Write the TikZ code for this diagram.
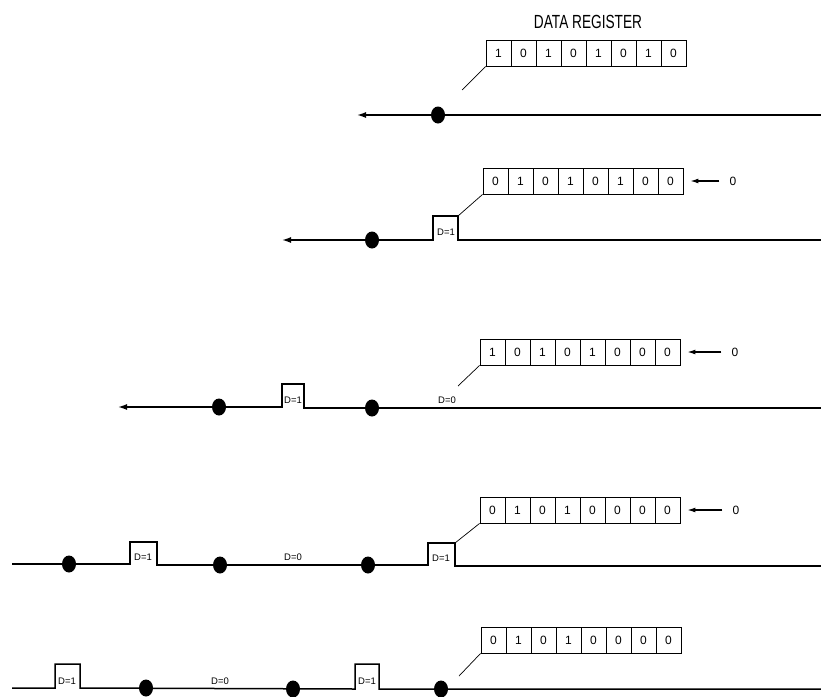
\documentclass[tikz,border=0pt]{standalone}
\usepackage{fontspec}
\setmainfont{Liberation Sans}
\usetikzlibrary{arrows.meta,shapes.geometric}
\tikzset{
  cell/.style={draw,line width=0.9pt,minimum width=25pt,minimum height=26pt,inner sep=0pt,font=\fontsize{12}{12}\selectfont},
  wire/.style={line width=1.5pt,line join=miter},
  leader/.style={line width=0.7pt},
  dotnode/.style={ellipse,fill=black,minimum width=14pt,minimum height=17pt,inner sep=0pt},
  lbl/.style={font=\fontsize{9.5}{9.5}\selectfont,inner sep=0pt},
  inlbl/.style={font=\fontsize{12}{12}\selectfont,inner sep=2pt},
  tip/.style={-{Latex[length=9pt,width=6pt]}},
  feed/.style={line width=1.2pt,-{Latex[length=8pt,width=5pt]},shorten >=7pt,shorten <=8pt},
}
\newcommand{\regrow}[4]{%
  \foreach \b [count=\k from 0] in {#4} {
    \node[cell] (#1-\k) at ({#2+12.5+25*\k},{#3+13}) {\b};
  }%
}
\begin{document}
\begin{tikzpicture}[x=1pt,y=-1pt]
\useasboundingbox (0,0) rectangle (821,696);
% ---------- row 1 ----------
\node[font=\fontsize{19}{19}\selectfont,xscale=0.72,transform shape] (title) at (588,22) {DATA REGISTER};
\regrow{r1}{486}{40}{1,0,1,0,1,0,1,0}
\coordinate (w1s) at (821,115);
\coordinate (w1e) at (357,115);
\draw[wire,tip] (w1s) -- (w1e);
\node[dotnode] (d1a) at (438,115) {};
\coordinate (l1) at (462,90);
\draw[leader] (r1-0.south west) -- (l1);
% ---------- row 2 ----------
\regrow{r2}{483}{168}{0,1,0,1,0,1,0,0}
\coordinate (w2s) at (821,240);
\coordinate (p2r) at (458,216);
\coordinate (w2e) at (282,240);
\draw[wire,tip] (w2s) -- (458,240) -- (p2r) -- (433,216) -- (433,240) -- (w2e);
\node[dotnode] (d2a) at (372,240) {};
\node[lbl] (t2a) at (446,232) {D=1};
\draw[leader] (r2-0.south west) -- (p2r);
\node[inlbl] (z2) at (733,181) {0};
\draw[feed] (z2) -- (r2-7);
% ---------- row 3 ----------
\regrow{r3}{480}{339}{1,0,1,0,1,0,0,0}
\coordinate (w3s) at (821,408);
\coordinate (w3e) at (118,407);
\draw[wire,tip] (w3s) -- (304,408) -- (304,384) -- (282,384) -- (282,407) -- (w3e);
\node[dotnode] (d3a) at (219,407) {};
\node[dotnode] (d3b) at (372,408) {};
\node[lbl] (t3a) at (293,400) {D=1};
\node[lbl] (t3b) at (447,400) {D=0};
\coordinate (l3) at (458,386);
\draw[leader] (r3-0.south west) -- (l3);
\node[inlbl] (z3) at (735,352) {0};
\draw[feed] (z3) -- (r3-7);
% ---------- row 4 ----------
\regrow{r4}{480}{497}{0,1,0,1,0,0,0,0}
\coordinate (w4s) at (821,566);
\coordinate (p4r) at (455,543);
\coordinate (w4e) at (12,564);
\draw[wire] (w4s) -- (455,566) -- (p4r) -- (428,543) -- (428,565) -- (157,565) -- (157,542) -- (130,542) -- (130,564) -- (w4e);
\node[dotnode] (d4a) at (69,564) {};
\node[dotnode] (d4b) at (220,565) {};
\node[dotnode] (d4c) at (368,565) {};
\node[lbl] (t4a) at (143,557) {D=1};
\node[lbl] (t4b) at (293,557) {D=0};
\node[lbl] (t4c) at (441,558) {D=1};
\draw[leader] (r4-0.south west) -- (p4r);
\node[inlbl] (z4) at (736,510) {0};
\draw[feed] (z4) -- (r4-7);
% ---------- row 5 ----------
\regrow{r5}{481}{627}{0,1,0,1,0,0,0,0}
\coordinate (w5s) at (821,689);
\coordinate (w5e) at (12,688);
\draw[wire] (w5s) -- (379,689) -- (379,664) -- (355,664) -- (355,689) -- (80,688) -- (80,664) -- (55,664) -- (55,688) -- (w5e);
\node[dotnode] (d5a) at (146,688) {};
\node[dotnode] (d5b) at (293,689) {};
\node[dotnode] (d5c) at (441,689) {};
\node[lbl] (t5a) at (67,681) {D=1};
\node[lbl] (t5b) at (220,681) {D=0};
\node[lbl] (t5c) at (367,681) {D=1};
\coordinate (l5) at (459,676);
\draw[leader] (r5-0.south west) -- (l5);
\end{tikzpicture}
\end{document}
